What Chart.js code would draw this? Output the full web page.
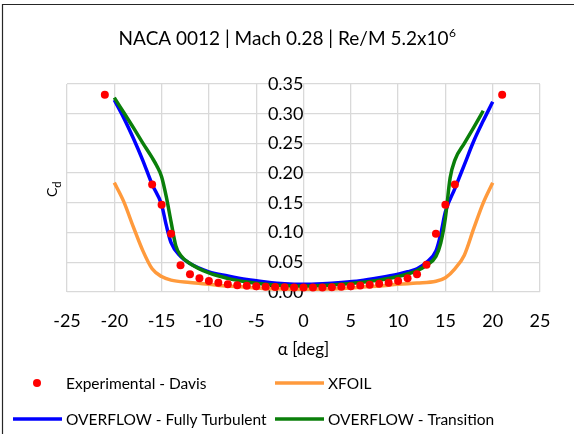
<!DOCTYPE html>
<html lang="en">
<head>
  <meta charset="UTF-8">
  <title>NACA 0012 drag polar</title>
  <script src="https://cdn.jsdelivr.net/npm/chart.js"></script>
  <style>
    body { margin: 0; background: #fff; }
    canvas { display: block; }
  </style>
</head>
<body>
  <canvas id="cdChart" width="574" height="434"></canvas>

  <script>
    // Experimental data (Davis)
    const alphaExp = [-21, -16, -15, -14, -13, -12, -11, -10, -9, -8, -7, -6, -5, -4, -3, -2, -1,
                      0, 1, 2, 3, 4, 5, 6, 7, 8, 9, 10, 11, 12, 13, 14, 15, 16, 21];
    const cdExp = [0.332, 0.181, 0.147, 0.098, 0.045, 0.030, 0.023, 0.0185, 0.0155, 0.013, 0.0115, 0.0105, 0.0097, 0.009, 0.0083, 0.0078, 0.0075,
                   0.0074, 0.0075, 0.0077, 0.008, 0.0088, 0.0097, 0.011, 0.012, 0.0138, 0.0155, 0.0183, 0.023, 0.030, 0.046, 0.098, 0.147, 0.181, 0.332];

    // XFOIL
    const alphaXfoil = [-20, -19, -18, -17, -16, -15, -14, -12, -10, -8, -6, -4, -2, 0,
                        2, 4, 6, 8, 10, 12, 14, 15, 16, 17, 18, 19, 20];
    const cdXfoil = [0.184, 0.152, 0.110, 0.070, 0.039, 0.026, 0.020, 0.016, 0.013, 0.010, 0.008, 0.006, 0.005, 0.0045,
                     0.005, 0.006, 0.008, 0.010, 0.013, 0.015, 0.018, 0.024, 0.039, 0.062, 0.107, 0.150, 0.184];

    // OVERFLOW - fully turbulent
    const alphaTurb = [-20, -19, -18, -17, -16, -15, -14.5, -14, -13, -12, -10, -8, -6, -4, -2, 0,
                       2, 4, 6, 8, 10, 11, 12, 13, 14, 14.5, 15, 16, 17, 18, 19, 20];
    const cdTurb = [0.323, 0.293, 0.259, 0.222, 0.181, 0.147, 0.112, 0.083, 0.060, 0.048, 0.034, 0.027, 0.021, 0.017, 0.014, 0.013,
                    0.014, 0.016, 0.019, 0.024, 0.030, 0.034, 0.039, 0.050, 0.069, 0.097, 0.135, 0.174, 0.214, 0.254, 0.288, 0.320];

    // OVERFLOW - transition
    const alphaTrans = [-20, -19, -18, -17, -16, -15.5, -15, -14.5, -14, -13.5, -13, -12, -10, -8, -6, -4, -2, 0,
                        2, 4, 6, 8, 10, 12, 13, 14, 14.5, 15, 15.5, 16, 17, 18, 19];
    const cdTrans = [0.327, 0.302, 0.277, 0.251, 0.226, 0.212, 0.194, 0.160, 0.118, 0.078, 0.062, 0.048, 0.032, 0.023, 0.017, 0.013, 0.011, 0.010,
                     0.011, 0.013, 0.016, 0.020, 0.026, 0.036, 0.045, 0.060, 0.082, 0.125, 0.192, 0.222, 0.250, 0.277, 0.305];

    const xTicks = [-25, -20, -15, -10, -5, 0, 5, 10, 15, 20, 25];
    const yTicks = [0, 0.05, 0.10, 0.15, 0.20, 0.25, 0.30, 0.35];

    const FONT = 'Lato, "Open Sans", sans-serif';
    const gridColor = '#d9d9d9';

    function toPoints(xs, ys) {
      return xs.map((x, i) => ({ x: x, y: ys[i] }));
    }

    // Legend laid out as a 2-column grid under the x axis
    const gridLegend = {
      id: 'gridLegend',
      afterDraw(chart) {
        const ctx = chart.ctx;
        const colX = [13, 275];
        const rowY = [chart.height - 51, chart.height - 15];
        ctx.save();
        ctx.font = '15.5px ' + FONT;
        ctx.textBaseline = 'middle';
        ctx.textAlign = 'left';
        chart.data.datasets.forEach((ds, i) => {
          const x = colX[i % 2];
          const y = rowY[Math.floor(i / 2)];
          if (ds.showLine === false) {
            ctx.fillStyle = ds.backgroundColor;
            ctx.beginPath();
            ctx.arc(x + 24, y, ds.pointRadius, 0, Math.PI * 2);
            ctx.fill();
          } else {
            ctx.strokeStyle = ds.borderColor;
            ctx.lineWidth = ds.borderWidth;
            ctx.beginPath();
            ctx.moveTo(x, y);
            ctx.lineTo(x + 49, y);
            ctx.stroke();
          }
          ctx.fillStyle = '#000';
          ctx.fillText(ds.label, x + 53, y + 1);
        });
        ctx.restore();
      }
    };

    // Title centred on the canvas, Cd axis title and the chart frame
    const extras = {
      id: 'extras',
      afterDraw(chart) {
        const ctx = chart.ctx;
        const area = chart.chartArea;

        ctx.save();
        ctx.fillStyle = '#000';
        ctx.textBaseline = 'alphabetic';
        ctx.textAlign = 'left';
        const main = 'NACA 0012 | Mach 0.28 | Re/M 5.2x10';
        const sup = '6';
        ctx.font = '19px ' + FONT;
        const mw = ctx.measureText(main).width;
        ctx.font = '12px ' + FONT;
        const sw = ctx.measureText(sup).width;
        const tx = chart.width / 2 - (mw + sw) / 2;
        ctx.font = '19px ' + FONT;
        ctx.fillText(main, tx, 45);
        ctx.font = '12px ' + FONT;
        ctx.fillText(sup, tx + mw + 0.5, 37);
        ctx.restore();

        ctx.save();
        ctx.translate(area.left - 15, (area.top + area.bottom) / 2 + 1);
        ctx.rotate(-Math.PI / 2);
        ctx.fillStyle = '#000';
        ctx.textBaseline = 'alphabetic';
        ctx.textAlign = 'left';
        ctx.font = '14px ' + FONT;
        const cw = ctx.measureText('C').width;
        ctx.fillText('C', -8, 5);
        ctx.font = '11px ' + FONT;
        ctx.fillText('d', -8 + cw, 9);
        ctx.restore();

        ctx.save();
        ctx.strokeStyle = '#262626';
        ctx.lineWidth = 1.2;
        ctx.beginPath();
        ctx.moveTo(2.5, chart.height + 2);
        ctx.lineTo(2.5, 4.5);
        ctx.lineTo(chart.width + 2, 4.5);
        ctx.stroke();
        ctx.restore();
      }
    };

    const chart = new Chart(document.getElementById('cdChart'), {
      type: 'line',
      data: {
        datasets: [
          {
            label: 'Experimental - Davis',
            data: toPoints(alphaExp, cdExp),
            showLine: false,
            backgroundColor: '#ff0000',
            borderColor: '#ff0000',
            pointRadius: 4,
            pointBorderWidth: 0,
            order: 0
          },
          {
            label: 'XFOIL',
            data: toPoints(alphaXfoil, cdXfoil),
            borderColor: '#ff9a3c',
            borderWidth: 3.5,
            pointRadius: 0,
            cubicInterpolationMode: 'monotone',
            order: 3
          },
          {
            label: 'OVERFLOW - Fully Turbulent',
            data: toPoints(alphaTurb, cdTurb),
            borderColor: '#0000ff',
            borderWidth: 3.5,
            pointRadius: 0,
            cubicInterpolationMode: 'monotone',
            order: 2
          },
          {
            label: 'OVERFLOW - Transition',
            data: toPoints(alphaTrans, cdTrans),
            borderColor: '#0a7f0a',
            borderWidth: 3.5,
            pointRadius: 0,
            cubicInterpolationMode: 'monotone',
            order: 1
          }
        ]
      },
      options: {
        responsive: false,
        animation: false,
        layout: { padding: { left: 67, right: 34, top: 84, bottom: 70 } },
        plugins: {
          legend: { display: false },
          tooltip: { enabled: false },
          title: { display: false }
        },
        scales: {
          x: {
            type: 'linear',
            min: -25,
            max: 25,
            afterBuildTicks: (scale) => { scale.ticks = xTicks.map(v => ({ value: v })); },
            ticks: {
              color: '#000',
              padding: 18,
              font: { family: FONT, size: 18 }
            },
            grid: { color: gridColor, lineWidth: 1.3, drawTicks: false },
            border: { display: false },
            title: {
              display: true,
              text: '\u03b1 [deg]',
              color: '#000',
              font: { family: FONT, size: 17 },
              padding: { top: -10, bottom: 4 }
            }
          },
          y: {
            type: 'linear',
            position: { x: 0 },
            min: 0,
            max: 0.35,
            afterBuildTicks: (scale) => { scale.ticks = yTicks.map(v => ({ value: v })); },
            ticks: {
              color: '#000',
              padding: -21,
              font: { family: FONT, size: 18 },
              callback: (v) => v.toFixed(2)
            },
            grid: { color: gridColor, lineWidth: 1.3, drawTicks: false },
            border: { display: false }
          }
        }
      },
      plugins: [gridLegend, extras]
    });
  </script>
</body>
</html>
